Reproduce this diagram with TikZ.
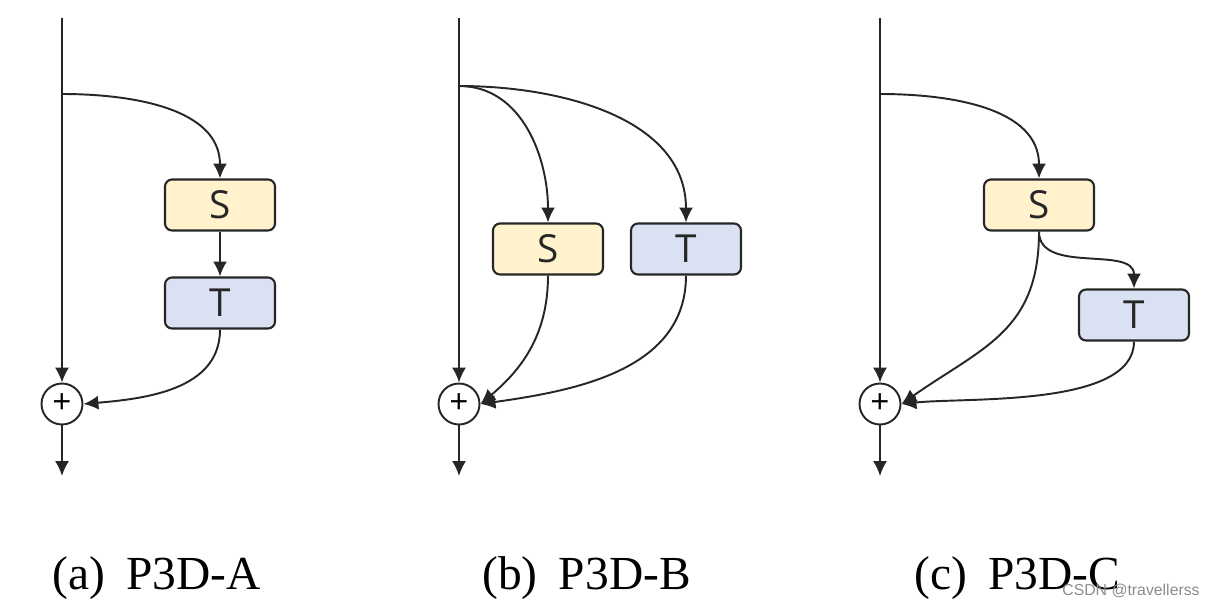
\documentclass[tikz,border=0pt]{standalone}
\usepackage{fontspec}
\setmainfont{Liberation Serif}
\newfontfamily\boxfont{Open Sans}
\newfontfamily\markfont{Liberation Sans}
\usetikzlibrary{arrows.meta}

\definecolor{sfill}{HTML}{FFF2CC}
\definecolor{tfill}{HTML}{DAE1F3}
\definecolor{lineclr}{HTML}{262626}

\begin{document}
\begin{tikzpicture}[x=0.02cm, y=-0.02cm,
    block/.style={rectangle, rounded corners=4pt, draw=lineclr, line width=1.2pt, minimum width=2.2cm, minimum height=1.02cm, text=lineclr, font=\boxfont\fontsize{22}{22}\selectfont},
    sblock/.style={block, fill=sfill},
    tblock/.style={block, fill=tfill},
    adder/.style={circle, draw=lineclr, line width=1.1pt, minimum size=0.82cm, inner sep=0pt, font=\boxfont\fontsize{19}{19}\selectfont},
    arrow/.style={-{Latex[length=8.5pt,width=8pt]}, line width=1.1pt, draw=lineclr},
    caption/.style={anchor=base west, inner sep=0pt, font=\fontsize{27}{27}\selectfont}
]
\useasboundingbox (0,0) rectangle (1215,609);

% (a) P3D-A
\coordinate (topa) at (62,18);
\coordinate (forka) at (62,94);
\node[sblock] (sa) at (220,205) {S};
\node[tblock] (ta) at (220,303) {T};
\node[adder] (adda) at (62,404) {+};
\coordinate (outa) at (62,476);

\draw[arrow] (topa) -- (adda);
\draw[arrow] (forka) to[out=0,in=90] (sa.north);
\draw[arrow] (sa) -- (ta);
\draw[arrow] (ta.south) to[out=-90,in=5] (adda.east);
\draw[arrow] (adda) -- (outa);

% (b) P3D-B
\coordinate (topb) at (459,18);
\coordinate (forkb) at (459,86);
\node[sblock] (sb) at (548,249) {S};
\node[tblock] (tb) at (686,249) {T};
\node[adder] (addb) at (459,404) {+};
\coordinate (outb) at (459,476);

\draw[arrow] (topb) -- (addb);
\draw[arrow] (forkb) to[out=0,in=90] (sb.north);
\draw[arrow] (forkb) to[out=0,in=90] (tb.north);
\draw[arrow] (sb.south) to[out=-90,in=40] (addb.east);
\draw[arrow] (tb.south) to[out=-90,in=8] (addb.east);
\draw[arrow] (addb) -- (outb);

% (c) P3D-C
\coordinate (topc) at (880,18);
\coordinate (forkc) at (880,94);
\node[sblock] (sc) at (1039,205) {S};
\node[tblock] (tc) at (1134,315) {T};
\node[adder] (addc) at (880,404) {+};
\coordinate (outc) at (880,476);

\draw[arrow] (topc) -- (addc);
\draw[arrow] (forkc) to[out=0,in=90] (sc.north);
\draw[arrow] (sc.south) to[out=-90,in=90] (tc.north);
\draw[arrow] (sc.south) to[out=-90,in=35,looseness=1.15] (addc.east);
\draw[arrow] (tc.south) to[out=-90,in=6,looseness=0.7] (addc.east);
\draw[arrow] (addc) -- (outc);

% captions
\node[caption] (capa) at (52,589) {(a)\hspace{0.45em}P3D-A};
\node[caption] (capb) at (482,589) {(b)\hspace{0.45em}P3D-B};
\node[caption] (capc) at (914,589) {(c)\hspace{0.45em}P3D-C};
\node[anchor=south east, inner sep=0pt, text=black!45, font=\markfont\fontsize{9}{9}\selectfont] (mark) at (1200,598) {CSDN @travellerss};

\end{tikzpicture}
\end{document}
